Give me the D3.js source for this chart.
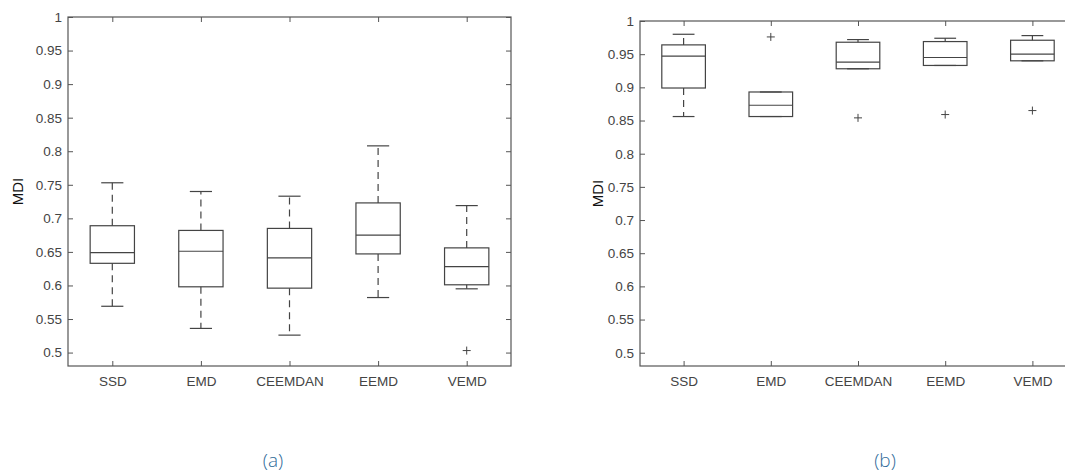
<!DOCTYPE html>
<html lang="en">
<head>
<meta charset="utf-8">
<title>MDI boxplots</title>
<style>
  body { margin: 0; background: #fff; }
  svg { display: block; font-family: "Liberation Sans", Arial, sans-serif; }
  .tick text { fill: #444; font-size: 13.5px; }
  .frame { fill: none; stroke: #555; stroke-width: 1.2px; }
  .box { fill: none; stroke: #444; stroke-width: 1.2px; }
  .whisker { stroke: #444; stroke-width: 1.2px; stroke-dasharray: 7,5; }
  .cap, .median { stroke: #444; stroke-width: 1.2px; }
  .outlier { stroke: #444; stroke-width: 1px; }
  .ylabel { font-size: 15px; fill: #111; }
  .caption { font-family: "Open Sans", "Noto Sans", sans-serif; font-weight: 300; font-size: 19px; fill: #2f6a99; }
</style>
<script src="https://d3js.org/d3.v7.min.js"></script>
</head>
<body>
<script>
const width = 1065, height = 475;

const methods = ["SSD", "EMD", "CEEMDAN", "EEMD", "VEMD"];
const yTicks = [0.5, 0.55, 0.6, 0.65, 0.7, 0.75, 0.8, 0.85, 0.9, 0.95, 1];

// (a)
const aLow    = [0.569, 0.536, 0.526, 0.582, 0.595];
const aQ1     = [0.633, 0.598, 0.596, 0.647, 0.601];
const aMedian = [0.649, 0.651, 0.641, 0.675, 0.628];
const aQ3     = [0.689, 0.682, 0.685, 0.723, 0.656];
const aHigh   = [0.753, 0.740, 0.733, 0.808, 0.719];
const aOutliers = [[], [], [], [], [0.503]];

// (b)
const bLow    = [0.856, 0.856, 0.928, 0.933, 0.940];
const bQ1     = [0.899, 0.856, 0.928, 0.933, 0.940];
const bMedian = [0.947, 0.873, 0.938, 0.945, 0.950];
const bQ3     = [0.964, 0.893, 0.968, 0.969, 0.971];
const bHigh   = [0.980, 0.893, 0.972, 0.974, 0.978];
const bOutliers = [[], [0.976], [0.854], [0.859], [0.865]];

const svg = d3.select("body").append("svg")
    .attr("width", width)
    .attr("height", height);

function boxChart(opt) {
    const g = svg.append("g");
    const x = d3.scaleLinear().domain([0.5, 5.5]).range([opt.left, opt.right]);
    const y = d3.scaleLinear().domain([0.48, 1]).range([opt.bottom, opt.top]);
    const step = x(2) - x(1);
    const bw = step * 0.5, cw = bw * 0.5;

    g.append("rect").attr("class", "frame")
        .attr("x", opt.left).attr("y", opt.top)
        .attr("width", opt.right - opt.left).attr("height", opt.bottom - opt.top);

    // y axis ticks (inward), plus mirrored ticks on the right side
    g.append("g").attr("transform", `translate(${opt.left},0)`)
        .call(d3.axisRight(y).tickValues(yTicks).tickSize(5).tickFormat(""))
        .call(a => a.select(".domain").remove())
        .call(a => a.selectAll("line").attr("stroke", "#555"));
    g.append("g").attr("transform", `translate(${opt.left},0)`)
        .call(d3.axisLeft(y).tickValues(yTicks).tickSize(0).tickPadding(6).tickFormat(d3.format("")))
        .call(a => a.select(".domain").remove());
    g.append("g").attr("transform", `translate(${opt.right},0)`)
        .call(d3.axisLeft(y).tickValues(yTicks).tickSize(5).tickFormat(""))
        .call(a => a.select(".domain").remove())
        .call(a => a.selectAll("line").attr("stroke", "#555"));

    // x axis ticks
    const idx = d3.range(1, 6);
    g.append("g").attr("transform", `translate(0,${opt.bottom})`)
        .call(d3.axisTop(x).tickValues(idx).tickSize(5).tickFormat(""))
        .call(a => a.select(".domain").remove())
        .call(a => a.selectAll("line").attr("stroke", "#555"));
    g.append("g").attr("transform", `translate(0,${opt.bottom})`)
        .call(d3.axisBottom(x).tickValues(idx).tickSize(0).tickPadding(10).tickFormat(i => methods[i - 1]))
        .call(a => a.select(".domain").remove());
    g.append("g").attr("transform", `translate(0,${opt.top})`)
        .call(d3.axisBottom(x).tickValues(idx).tickSize(5).tickFormat(""))
        .call(a => a.select(".domain").remove())
        .call(a => a.selectAll("line").attr("stroke", "#555"));

    const stats = methods.map((m, i) => ({
        i: i + 1, low: opt.low[i], q1: opt.q1[i], med: opt.med[i],
        q3: opt.q3[i], high: opt.high[i], out: opt.out[i]
    }));

    const b = g.selectAll(".item").data(stats).enter().append("g");
    b.filter(d => d.high > d.q3).append("line").attr("class", "whisker")
        .attr("x1", d => x(d.i)).attr("x2", d => x(d.i))
        .attr("y1", d => y(d.q3)).attr("y2", d => y(d.high));
    b.filter(d => d.low < d.q1).append("line").attr("class", "whisker")
        .attr("x1", d => x(d.i)).attr("x2", d => x(d.i))
        .attr("y1", d => y(d.q1)).attr("y2", d => y(d.low));
    b.append("line").attr("class", "cap")
        .attr("x1", d => x(d.i) - cw / 2).attr("x2", d => x(d.i) + cw / 2)
        .attr("y1", d => y(d.high)).attr("y2", d => y(d.high));
    b.append("line").attr("class", "cap")
        .attr("x1", d => x(d.i) - cw / 2).attr("x2", d => x(d.i) + cw / 2)
        .attr("y1", d => y(d.low)).attr("y2", d => y(d.low));
    b.append("rect").attr("class", "box")
        .attr("x", d => x(d.i) - bw / 2).attr("width", bw)
        .attr("y", d => y(d.q3)).attr("height", d => y(d.q1) - y(d.q3));
    b.append("line").attr("class", "median")
        .attr("x1", d => x(d.i) - bw / 2).attr("x2", d => x(d.i) + bw / 2)
        .attr("y1", d => y(d.med)).attr("y2", d => y(d.med));
    b.selectAll(".outlier").data(d => d.out.map(v => ({i: d.i, v: v}))).enter()
        .append("path").attr("class", "outlier")
        .attr("d", d => `M${x(d.i) - 4},${y(d.v)}H${x(d.i) + 4}M${x(d.i)},${y(d.v) - 4}V${y(d.v) + 4}`);

    g.append("text").attr("class", "ylabel")
        .attr("transform", `translate(${opt.labelX},${(opt.top + opt.bottom) / 2}) rotate(-90)`)
        .attr("text-anchor", "middle").attr("dy", "0.35em")
        .text("MDI");

    g.append("text").attr("class", "caption")
        .attr("x", opt.capX).attr("y", 467)
        .attr("text-anchor", "middle")
        .text(opt.caption);
}

boxChart({ left: 68, right: 511, top: 17, bottom: 366, labelX: 18, capX: 273, caption: "(a)",
    low: aLow, q1: aQ1, med: aMedian, q3: aQ3, high: aHigh, out: aOutliers });
boxChart({ left: 640, right: 1076, top: 21, bottom: 366, labelX: 598, capX: 885, caption: "(b)",
    low: bLow, q1: bQ1, med: bMedian, q3: bQ3, high: bHigh, out: bOutliers });
</script>
</body>
</html>
